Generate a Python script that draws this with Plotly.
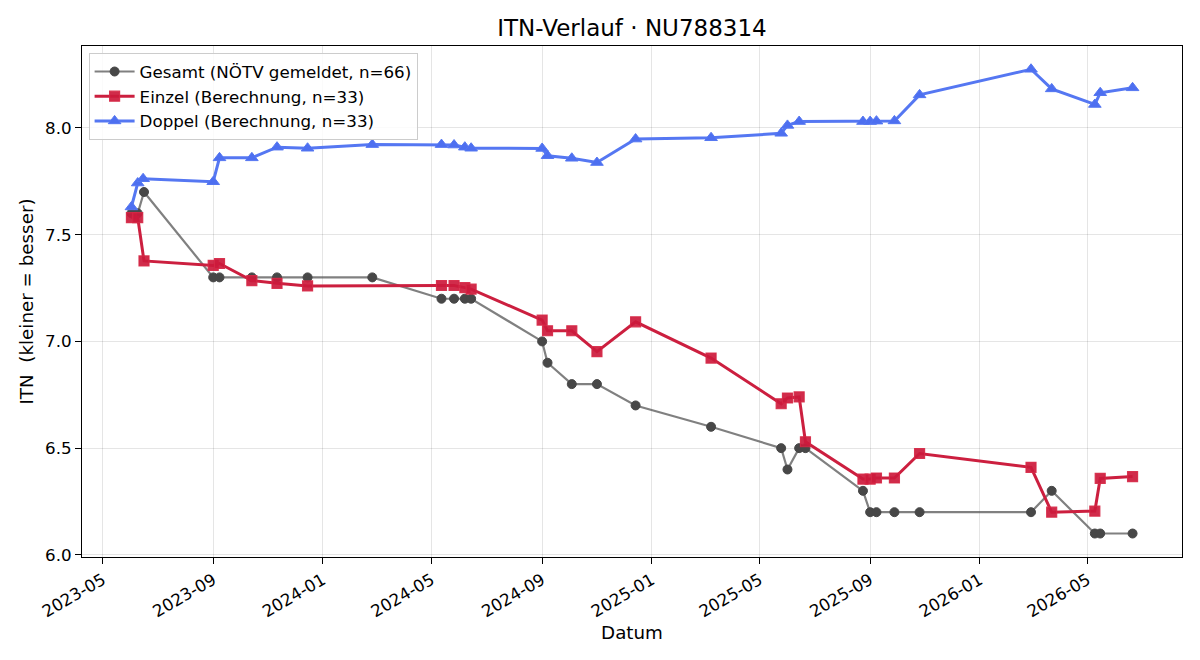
import plotly.graph_objects as go

# Gesamt (NÖTV gemeldet)
gesamt_dates = ["2023-06-02", "2023-06-09", "2023-06-16", "2023-09-01", "2023-09-08", "2023-10-14",
                "2023-11-11", "2023-12-15", "2024-02-25", "2024-05-12", "2024-05-26", "2024-06-07",
                "2024-06-14", "2024-09-01", "2024-09-07", "2024-10-04", "2024-11-01", "2024-12-14",
                "2025-03-08", "2025-05-25", "2025-06-01", "2025-06-14", "2025-06-21", "2025-08-24",
                "2025-09-01", "2025-09-08", "2025-09-28", "2025-10-26", "2026-02-27", "2026-03-22",
                "2026-05-09", "2026-05-15", "2026-06-20"]
gesamt_vals = [7.6, 7.6, 7.7, 7.3, 7.3, 7.3,
               7.3, 7.3, 7.3, 7.2, 7.2, 7.2,
               7.2, 7.0, 6.9, 6.8, 6.8, 6.7,
               6.6, 6.5, 6.4, 6.5, 6.5, 6.3,
               6.2, 6.2, 6.2, 6.2, 6.2, 6.3,
               6.1, 6.1, 6.1]

# Einzel (Berechnung)
einzel_dates = ["2023-06-02", "2023-06-09", "2023-06-16", "2023-09-01", "2023-09-08", "2023-10-14",
                "2023-11-11", "2023-12-15", "2024-05-12", "2024-05-26", "2024-06-07", "2024-06-14",
                "2024-09-01", "2024-09-07", "2024-10-04", "2024-11-01", "2024-12-14", "2025-03-08",
                "2025-05-25", "2025-06-01", "2025-06-14", "2025-06-21", "2025-08-24", "2025-09-01",
                "2025-09-08", "2025-09-28", "2025-10-26", "2026-02-27", "2026-03-22", "2026-05-09",
                "2026-05-15", "2026-06-20"]
einzel_vals = [7.58, 7.58, 7.377, 7.356, 7.365, 7.285,
               7.272, 7.26, 7.262, 7.262, 7.252, 7.245,
               7.10, 7.05, 7.05, 6.952, 7.092, 6.922,
               6.708, 6.735, 6.74, 6.53, 6.355, 6.355,
               6.36, 6.36, 6.475, 6.41, 6.20, 6.205,
               6.358, 6.367]

# Doppel (Berechnung)
doppel_dates = ["2023-06-02", "2023-06-09", "2023-06-15", "2023-09-01", "2023-09-08", "2023-10-14",
                "2023-11-11", "2023-12-15", "2024-02-25", "2024-05-12", "2024-05-26", "2024-06-07",
                "2024-06-14", "2024-09-01", "2024-09-07", "2024-10-04", "2024-11-01", "2024-12-14",
                "2025-03-08", "2025-05-25", "2025-06-01", "2025-06-14", "2025-08-24", "2025-09-01",
                "2025-09-08", "2025-09-28", "2025-10-26", "2026-02-27", "2026-03-22", "2026-05-09",
                "2026-05-15", "2026-06-20"]
doppel_vals = [7.63, 7.742, 7.762, 7.748, 7.86, 7.86,
               7.91, 7.905, 7.922, 7.922, 7.92, 7.91,
               7.905, 7.904, 7.87, 7.858, 7.838, 7.948,
               7.954, 7.975, 8.012, 8.03, 8.03, 8.03,
               8.032, 8.033, 8.155, 8.275, 8.183, 8.11,
               8.165, 8.188]

FONT = "DejaVu Sans"

fig = go.Figure()
fig.add_trace(go.Scatter(
    x=gesamt_dates, y=gesamt_vals, mode="lines+markers",
    name="Gesamt (NÖTV gemeldet, n=66)",
    line=dict(color="rgba(85,85,85,0.75)", width=2.2),
    marker=dict(symbol="circle", size=9, color="#474747",
                line=dict(color="#474747", width=1)),
))
fig.add_trace(go.Scatter(
    x=einzel_dates, y=einzel_vals, mode="lines+markers",
    name="Einzel (Berechnung, n=33)",
    line=dict(color="#cc1f3f", width=3),
    marker=dict(symbol="square", size=10, color="rgba(204,26,60,0.92)",
                line=dict(color="rgba(214,40,70,0.9)", width=1.2)),
))
fig.add_trace(go.Scatter(
    x=doppel_dates, y=doppel_vals, mode="lines+markers",
    name="Doppel (Berechnung, n=33)",
    line=dict(color="#5577f2", width=3),
    marker=dict(symbol="triangle-up", size=11, color="#4d6ff0",
                line=dict(color="#5577f2", width=1)),
))

fig.update_layout(
    width=1200, height=660,
    margin=dict(l=82, r=18, t=46, b=103),
    paper_bgcolor="white", plot_bgcolor="white",
    font=dict(family=FONT, size=16.7, color="black"),
    title=dict(text="ITN-Verlauf · NU788314", x=0.5, xref="paper",
               y=1 - 28 / 660, yanchor="middle", yref="container",
               font=dict(family=FONT, size=23, color="black")),
    legend=dict(x=0.006, y=0.986, xanchor="left", yanchor="top",
                bgcolor="rgba(255,255,255,0.85)", bordercolor="#cccccc", borderwidth=1,
                font=dict(family=FONT, size=16.7), itemwidth=40),
    showlegend=True,
)
fig.update_xaxes(
    range=["2023-04-08", "2026-08-14"], automargin=False,
    dtick="M4", tick0="2023-01-01", tickformat="%Y-%m", tickangle=-30,
    showgrid=True, gridcolor="rgba(0,0,0,0.1)", gridwidth=1,
    showline=True, linecolor="black", linewidth=1, mirror=True,
    ticks="outside", ticklen=6, tickcolor="black",
    tickfont=dict(family=FONT, size=16.7),
    title=dict(text="Datum", font=dict(family=FONT, size=18.3), standoff=5),
    zeroline=False,
)
fig.update_yaxes(
    range=[5.99, 8.384], automargin=False,
    tickvals=[6.0, 6.5, 7.0, 7.5, 8.0], tickformat=".1f",
    showgrid=True, gridcolor="rgba(0,0,0,0.1)", gridwidth=1,
    showline=True, linecolor="black", linewidth=1, mirror=True,
    ticks="outside", ticklen=6, tickcolor="black",
    tickfont=dict(family=FONT, size=16.7),
    title=dict(text="ITN\u00a0 (kleiner = besser)", font=dict(family=FONT, size=18.3), standoff=6),
    zeroline=False,
)

fig.write_html("out.html")
